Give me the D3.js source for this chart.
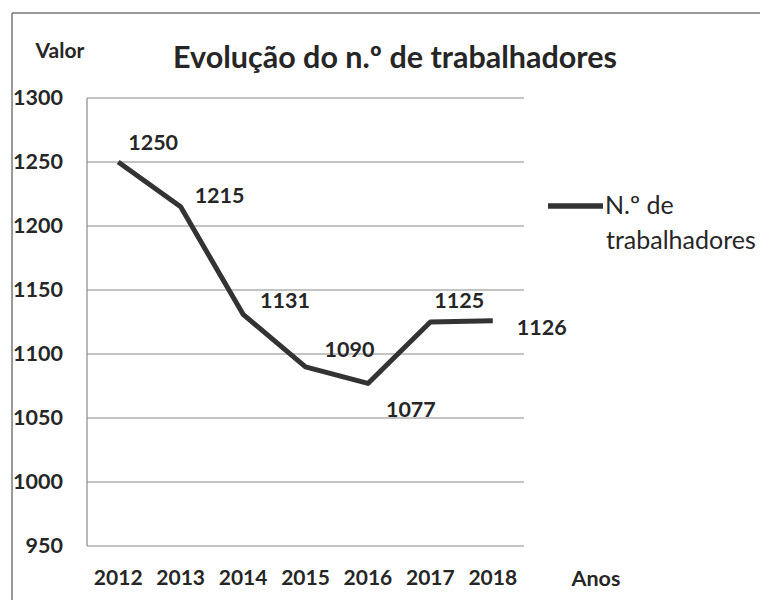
<!DOCTYPE html>
<html><head><meta charset="utf-8">
<script src="https://cdn.jsdelivr.net/npm/d3@7"></script>
<style>body{margin:0;background:#fff}svg{display:block}text{font-family:Lato,"Open Sans",sans-serif;fill:#262626}</style>
</head><body>
<script>
const years = ["2012","2013","2014","2015","2016","2017","2018"];
const workers = [1250,1215,1131,1090,1077,1125,1126];
const yTicks = [950,1000,1050,1100,1150,1200,1250,1300];
const title = "Evolução do n.º de trabalhadores";
const yTitle = "Valor";
const xTitle = "Anos";
const seriesName = ["N.º de", "trabalhadores"];
// label placement relative to point (dx, dy)
const labelOffsets = [[10,-12],[14,-4],[17,-6],[19,-10],[18,34],[4,-14],[24,14]];

const W=760,H=600;
const svg=d3.select("body").append("svg").attr("width",W).attr("height",H);
const x=d3.scalePoint().domain(years).range([87,524]).padding(0.5);
const y=d3.scaleLinear().domain([950,1300]).range([546,98]);

// frame
svg.append("line").attr("x1",12).attr("x2",W).attr("y1",13).attr("y2",13).attr("stroke","#777").attr("stroke-width",1.5);
svg.append("line").attr("x1",12).attr("x2",12).attr("y1",13).attr("y2",H).attr("stroke","#777").attr("stroke-width",1.5);

// gridlines
svg.append("g").selectAll("line").data(yTicks).join("line")
 .attr("x1",87).attr("x2",524).attr("y1",d=>y(d)).attr("y2",d=>y(d))
 .attr("stroke","#8a8a8a").attr("stroke-width",1.2);
svg.append("line").attr("x1",87).attr("x2",87).attr("y1",y(1300)).attr("y2",y(950)).attr("stroke","#8a8a8a").attr("stroke-width",1.2);

// y tick labels
svg.append("g").selectAll("text").data(yTicks).join("text")
 .attr("x",63).attr("y",d=>y(d)+7).attr("text-anchor","end")
 .attr("font-size",21.5).attr("font-weight","bold").text(d=>d);
// x labels
svg.append("g").selectAll("text").data(years).join("text")
 .attr("x",d=>x(d)).attr("y",585).attr("text-anchor","middle")
 .attr("font-size",21).attr("font-weight","bold").text(d=>d);

svg.append("text").attr("x",60).attr("y",58).attr("text-anchor","middle").attr("font-size",21).attr("font-weight","bold").text(yTitle);
svg.append("text").attr("x",596).attr("y",586).attr("text-anchor","middle").attr("font-size",21.5).attr("font-weight","bold").text(xTitle);
svg.append("text").attr("x",395).attr("y",68).attr("text-anchor","middle").attr("font-size",30.5).attr("font-weight","bold").text(title);

// line
const data=years.map((d,i)=>({year:d,v:workers[i]}));
svg.append("path").datum(data)
 .attr("d",d3.line().x(d=>x(d.year)).y(d=>y(d.v)))
 .attr("fill","none").attr("stroke","#333").attr("stroke-width",5).attr("stroke-linejoin","round");

// data labels
svg.append("g").selectAll("text").data(data).join("text")
 .attr("x",(d,i)=>x(d.year)+labelOffsets[i][0]).attr("y",(d,i)=>y(d.v)+labelOffsets[i][1])
 .attr("font-size",21.5).attr("font-weight","bold").text(d=>d.v);

// legend
svg.append("line").attr("x1",548).attr("x2",603).attr("y1",206).attr("y2",206).attr("stroke","#333").attr("stroke-width",5.5);
svg.append("text").attr("x",605).attr("y",214).attr("font-size",25).text(seriesName[0]);
svg.append("text").attr("x",606).attr("y",249).attr("font-size",25).text(seriesName[1]);
</script>
</body></html>
